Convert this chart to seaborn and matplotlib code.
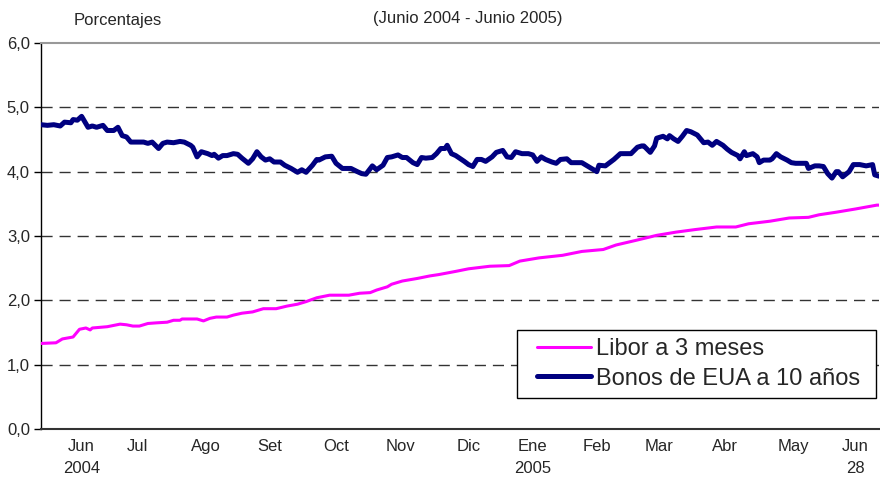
import matplotlib
matplotlib.use("Agg")
import matplotlib.pyplot as plt
from matplotlib.ticker import FuncFormatter
from matplotlib.lines import Line2D
from matplotlib.patches import Rectangle
import seaborn as sns
import pandas as pd

# ---- data ----
bond_dates = [
    "2004-06-01", "2004-06-04", "2004-06-07", "2004-06-10", "2004-06-12", "2004-06-15", "2004-06-16",
    "2004-06-18", "2004-06-20", "2004-06-23", "2004-06-25", "2004-06-27", "2004-06-30", "2004-07-02",
    "2004-07-05", "2004-07-07", "2004-07-09", "2004-07-11", "2004-07-13", "2004-07-16", "2004-07-19",
    "2004-07-21", "2004-07-23", "2004-07-26", "2004-07-28", "2004-07-30", "2004-08-02", "2004-08-05",
    "2004-08-07", "2004-08-10", "2004-08-11", "2004-08-13", "2004-08-15", "2004-08-18", "2004-08-20",
    "2004-08-21", "2004-08-23", "2004-08-25", "2004-08-27", "2004-08-30", "2004-09-01", "2004-09-03",
    "2004-09-06", "2004-09-08", "2004-09-10", "2004-09-12", "2004-09-14", "2004-09-16", "2004-09-18",
    "2004-09-21", "2004-09-23", "2004-09-26", "2004-09-29", "2004-10-01", "2004-10-03", "2004-10-06",
    "2004-10-08", "2004-10-09", "2004-10-12", "2004-10-15", "2004-10-17", "2004-10-20", "2004-10-22",
    "2004-10-24", "2004-10-27", "2004-10-29", "2004-10-31", "2004-11-03", "2004-11-05", "2004-11-08",
    "2004-11-10", "2004-11-12", "2004-11-15", "2004-11-17", "2004-11-19", "2004-11-22", "2004-11-24",
    "2004-11-26", "2004-11-28", "2004-12-01", "2004-12-03", "2004-12-05", "2004-12-07", "2004-12-08",
    "2004-12-10", "2004-12-12", "2004-12-16", "2004-12-18", "2004-12-20", "2004-12-22", "2004-12-24",
    "2004-12-26", "2004-12-29", "2004-12-31", "2005-01-03", "2005-01-05", "2005-01-07", "2005-01-09",
    "2005-01-12", "2005-01-15", "2005-01-17", "2005-01-19", "2005-01-21", "2005-01-23", "2005-01-26",
    "2005-01-28", "2005-01-30", "2005-02-02", "2005-02-04", "2005-02-07", "2005-02-09", "2005-02-12",
    "2005-02-14", "2005-02-16", "2005-02-17", "2005-02-20", "2005-02-22", "2005-02-24", "2005-02-27",
    "2005-03-02", "2005-03-04", "2005-03-07", "2005-03-09", "2005-03-10", "2005-03-13", "2005-03-15",
    "2005-03-16", "2005-03-19", "2005-03-21", "2005-03-22", "2005-03-24", "2005-03-26", "2005-03-28",
    "2005-03-30", "2005-04-01", "2005-04-04", "2005-04-05", "2005-04-07", "2005-04-09", "2005-04-11",
    "2005-04-13", "2005-04-16", "2005-04-18", "2005-04-20", "2005-04-23", "2005-04-24", "2005-04-26",
    "2005-04-27", "2005-04-30", "2005-05-02", "2005-05-03", "2005-05-05", "2005-05-08", "2005-05-09",
    "2005-05-11", "2005-05-13", "2005-05-16", "2005-05-18", "2005-05-20", "2005-05-23", "2005-05-25",
    "2005-05-26", "2005-05-29", "2005-05-31", "2005-06-02", "2005-06-04", "2005-06-06", "2005-06-08",
    "2005-06-09", "2005-06-11", "2005-06-14", "2005-06-16", "2005-06-19", "2005-06-22", "2005-06-25",
    "2005-06-26", "2005-06-28",
]
bond_values = [
    4.73, 4.72, 4.73, 4.71, 4.77, 4.76, 4.81,
    4.80, 4.86, 4.69, 4.71, 4.69, 4.72, 4.64,
    4.64, 4.69, 4.56, 4.54, 4.46, 4.46, 4.46,
    4.44, 4.46, 4.36, 4.44, 4.46, 4.45, 4.47,
    4.46, 4.41, 4.38, 4.23, 4.31, 4.28, 4.25,
    4.27, 4.21, 4.25, 4.25, 4.28, 4.27, 4.21,
    4.13, 4.20, 4.31, 4.23, 4.18, 4.20, 4.15,
    4.15, 4.10, 4.05, 3.99, 4.03, 3.99, 4.10,
    4.19, 4.18, 4.23, 4.24, 4.13, 4.05, 4.05,
    4.05, 4.00, 3.97, 3.96, 4.09, 4.03, 4.10,
    4.22, 4.23, 4.26, 4.22, 4.22, 4.14, 4.11,
    4.22, 4.21, 4.22, 4.28, 4.36, 4.36, 4.41,
    4.28, 4.25, 4.16, 4.11, 4.08, 4.19, 4.19,
    4.16, 4.23, 4.30, 4.33, 4.23, 4.22, 4.31,
    4.28, 4.28, 4.26, 4.16, 4.23, 4.19, 4.15,
    4.13, 4.19, 4.20, 4.14, 4.14, 4.14, 4.08,
    4.04, 4.00, 4.10, 4.09, 4.14, 4.19, 4.28,
    4.28, 4.28, 4.38, 4.40, 4.40, 4.30, 4.40,
    4.52, 4.55, 4.51, 4.56, 4.51, 4.47, 4.55,
    4.64, 4.62, 4.57, 4.53, 4.45, 4.46, 4.41,
    4.47, 4.41, 4.35, 4.30, 4.25, 4.20, 4.31,
    4.25, 4.28, 4.23, 4.14, 4.18, 4.18, 4.20,
    4.28, 4.23, 4.18, 4.14, 4.13, 4.13, 4.13,
    4.05, 4.09, 4.09, 4.08, 3.97, 3.90, 4.00,
    4.00, 3.92, 4.00, 4.11, 4.11, 4.09, 4.11,
    3.95, 3.93,
]

libor_dates = [
    "2004-06-01", "2004-06-08", "2004-06-11", "2004-06-16", "2004-06-19", "2004-06-22", "2004-06-24",
    "2004-06-25", "2004-07-02", "2004-07-08", "2004-07-11", "2004-07-14", "2004-07-17", "2004-07-21",
    "2004-07-25", "2004-07-30", "2004-08-02", "2004-08-05", "2004-08-06", "2004-08-13", "2004-08-16",
    "2004-08-19", "2004-08-22", "2004-08-27", "2004-08-30", "2004-09-03", "2004-09-08", "2004-09-13",
    "2004-09-19", "2004-09-24", "2004-09-29", "2004-10-03", "2004-10-08", "2004-10-14", "2004-10-23",
    "2004-10-28", "2004-11-02", "2004-11-05", "2004-11-10", "2004-11-12", "2004-11-17", "2004-11-24",
    "2004-11-30", "2004-12-04", "2004-12-12", "2004-12-18", "2004-12-28", "2005-01-06", "2005-01-11",
    "2005-01-20", "2005-01-31", "2005-02-09", "2005-02-19", "2005-02-25", "2005-03-06", "2005-03-16",
    "2005-03-25", "2005-04-03", "2005-04-13", "2005-04-22", "2005-04-28", "2005-05-08", "2005-05-17",
    "2005-05-26", "2005-05-31", "2005-06-08", "2005-06-17", "2005-06-27", "2005-06-28",
]
libor_values = [
    1.33, 1.34, 1.40, 1.43, 1.55, 1.57, 1.54,
    1.57, 1.59, 1.63, 1.62, 1.60, 1.60, 1.64,
    1.65, 1.66, 1.69, 1.69, 1.71, 1.71, 1.68,
    1.72, 1.74, 1.74, 1.77, 1.80, 1.82, 1.87,
    1.87, 1.91, 1.94, 1.98, 2.04, 2.08, 2.08,
    2.11, 2.12, 2.16, 2.21, 2.25, 2.30, 2.34,
    2.38, 2.40, 2.45, 2.49, 2.53, 2.54, 2.61,
    2.66, 2.70, 2.76, 2.79, 2.86, 2.93, 3.01,
    3.06, 3.10, 3.14, 3.14, 3.19, 3.23, 3.28,
    3.29, 3.33, 3.37, 3.42, 3.48, 3.48,
]

series_names = ["Libor a 3 meses", "Bonos de EUA a 10 años"]
series_colors = ["#FF00FF", "#000080"]

tick_dates = ["2004-06-20", "2004-07-16", "2004-08-17", "2004-09-16", "2004-10-17", "2004-11-16",
              "2004-12-18", "2005-01-17", "2005-02-16", "2005-03-17", "2005-04-17", "2005-05-19",
              "2005-06-17"]
tick_labels = ["Jun\n2004", "Jul", "Ago", "Set", "Oct", "Nov", "Dic", "Ene\n2005", "Feb", "Mar",
               "Abr", "May", "Jun\n28"]

title_text = "(Junio 2004 - Junio 2005)"
ylabel_text = "Porcentajes"

# ---- build frame ----
df = pd.concat([
    pd.DataFrame({"fecha": pd.to_datetime(libor_dates), "valor": libor_values, "serie": series_names[0]}),
    pd.DataFrame({"fecha": pd.to_datetime(bond_dates), "valor": bond_values, "serie": series_names[1]}),
], ignore_index=True)

sns.set_theme(style="white")
plt.rcParams["font.family"] = ["Liberation Sans", "DejaVu Sans"]

W, H = 880, 482
fig = plt.figure(figsize=(W / 100, H / 100), dpi=100)
ax = fig.add_axes([41 / W, 1 - 429 / H, 838 / W, (429 - 43) / H])

palette = dict(zip(series_names, series_colors))
sns.lineplot(data=df, x="fecha", y="valor", hue="serie", palette=palette, ax=ax,
             legend=False, estimator=None, sort=True)
widths = {series_names[0]: 2.2, series_names[1]: 3.6}
for line, name in zip(ax.get_lines(), series_names):
    line.set_linewidth(widths[name])
    line.set_solid_joinstyle("round")
    line.set_zorder(3)

ax.set_xlim(pd.Timestamp("2004-06-01"), pd.Timestamp("2005-06-28"))
ax.set_ylim(0, 6)
ax.set_yticks(range(0, 7))
ax.yaxis.set_major_formatter(FuncFormatter(lambda v, p: f"{v:.1f}".replace(".", ",")))
for yv in range(1, 6):
    ax.axhline(yv, color="#333333", lw=1.0, ls=(0, (8, 5)), zorder=1)

ax.set_xticks(pd.to_datetime(tick_dates))
ax.set_xticklabels(tick_labels, fontsize=12, linespacing=1.6)
ax.tick_params(axis="x", length=0, pad=7)
ax.tick_params(axis="y", direction="out", length=5, width=1, color="black", labelsize=12, pad=3, left=True)
for lab in ax.get_xticklabels():
    lab.set_multialignment("center")

ax.spines["right"].set_visible(False)
ax.spines["top"].set_color("#999999")
ax.spines["top"].set_linewidth(1.5)
ax.spines["left"].set_color("black")
ax.spines["bottom"].set_color("#333333")
ax.spines["left"].set_linewidth(1.0)
ax.spines["bottom"].set_linewidth(1.5)
ax.set_xlabel("")
ax.set_ylabel("")

fig.text(468 / W, 1 - 18 / H, title_text, ha="center", va="center", fontsize=12)
fig.text(118 / W, 1 - 20 / H, ylabel_text, ha="center", va="center", fontsize=12)

# legend: frame drawn as a rectangle, entries as a frameless legend
frame = Rectangle((517 / W, 1 - 398 / H), (876 - 517) / W, (398 - 330) / H,
                  transform=fig.transFigure, facecolor="white", edgecolor="black", lw=1.0, zorder=4)
fig.patches.append(frame)
handles = [Line2D([], [], color=c, lw=widths[n]) for n, c in zip(series_names, series_colors)]
leg = fig.legend(handles, series_names, loc="center left", bbox_to_anchor=(537 / W, 1 - 364 / H),
                 bbox_transform=fig.transFigure, fontsize=17, frameon=False,
                 handlelength=2.3, handletextpad=0.2, borderpad=0, labelspacing=0.3,
                 borderaxespad=0)
leg.set_zorder(5)

fig.savefig("out.png", dpi=100)
